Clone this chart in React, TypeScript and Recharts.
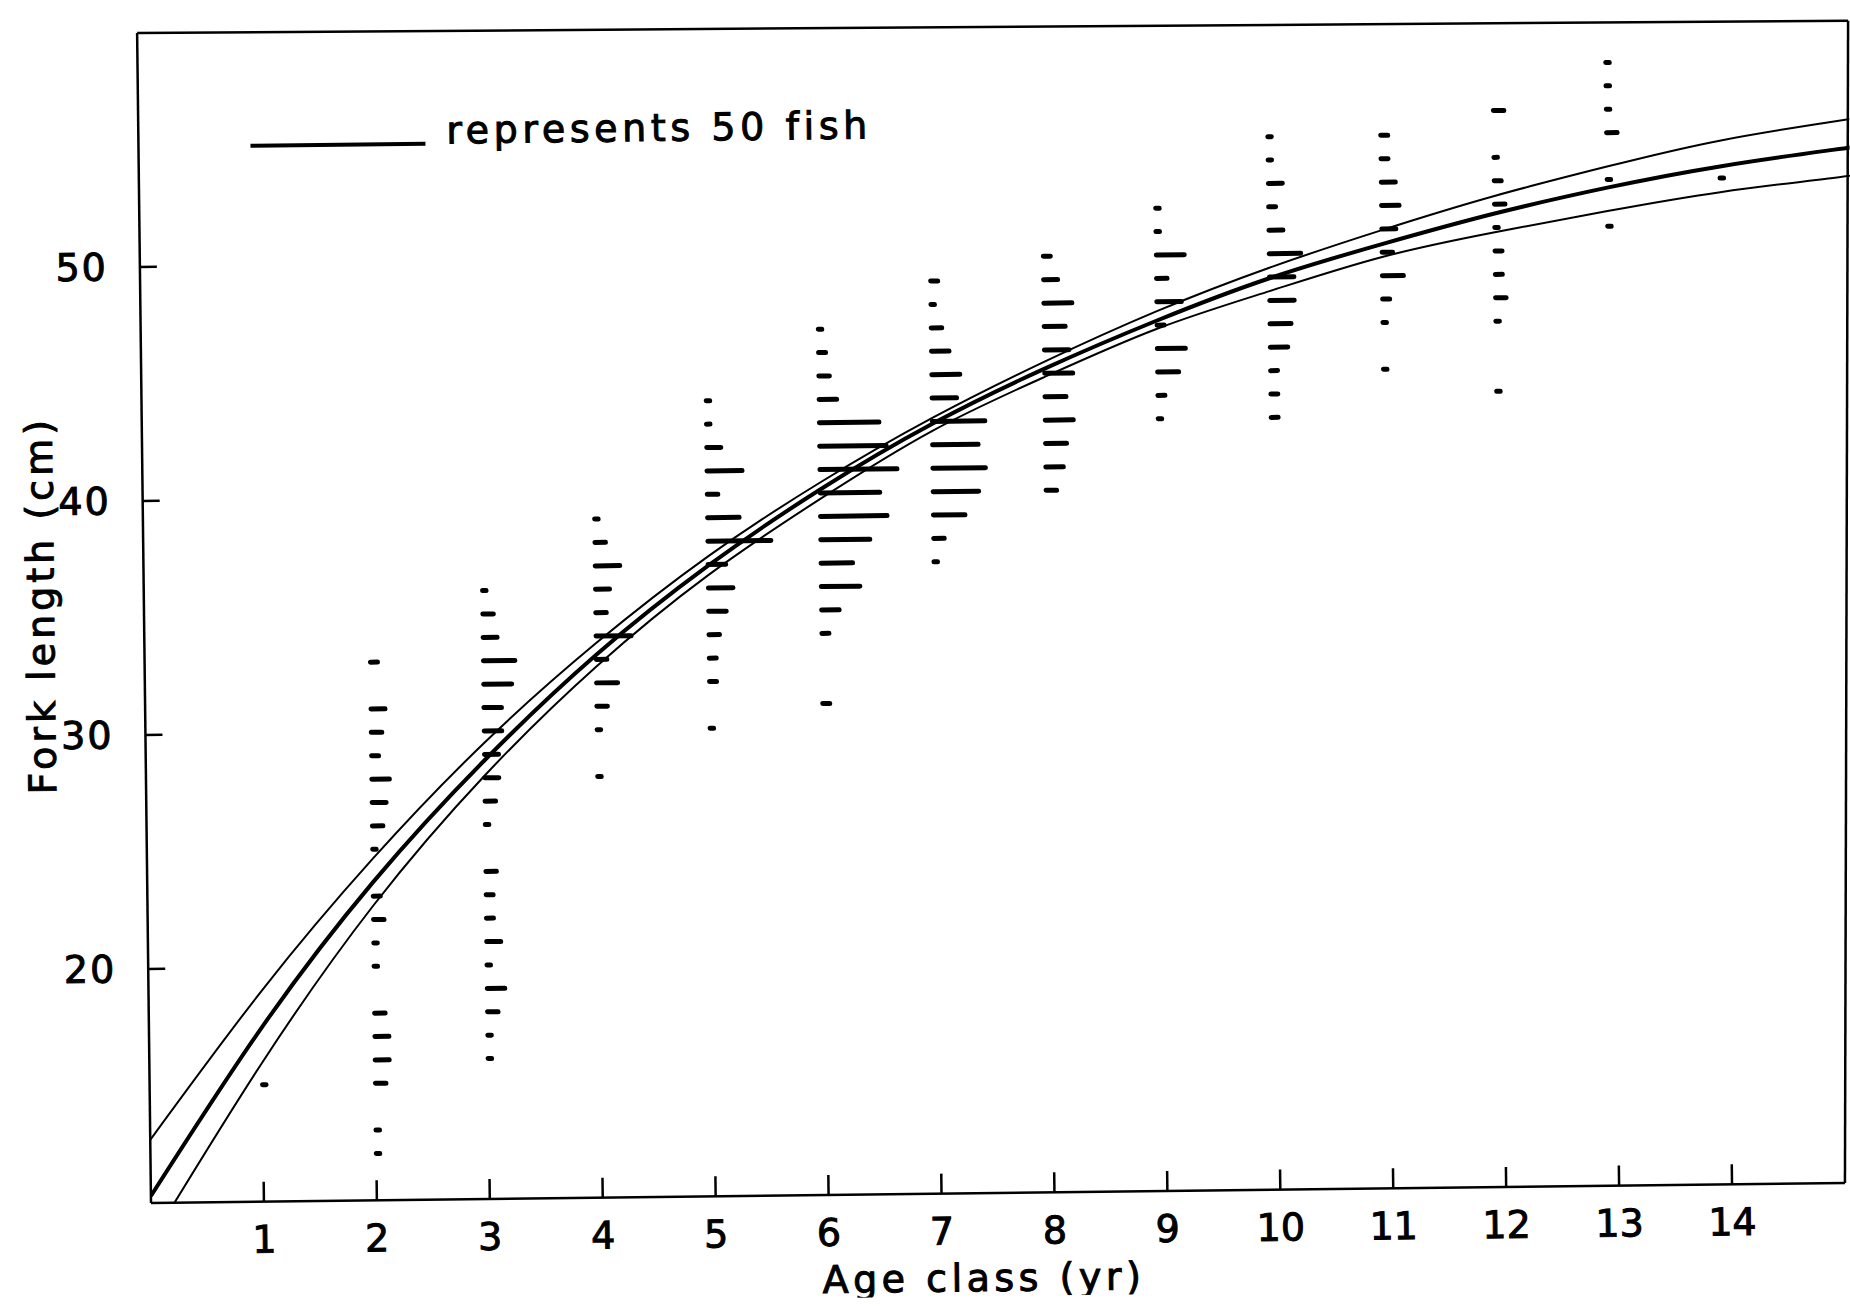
import { ComposedChart, Line, Scatter, XAxis, YAxis, ReferenceLine } from "recharts";

// axis ticks
const AGE_TICKS = [1, 2, 3, 4, 5, 6, 7, 8, 9, 10, 11, 12, 13, 14];
const LENGTH_TICKS = [20, 30, 40, 50];

// growth curve and its band
const CURVE_AGE = [0, 1, 2, 3, 4, 5, 6, 7, 8, 9, 10, 11, 12, 13, 14, 15, 15.15];
const CURVE_UPPER = [12.7, 19.0, 24.6, 29.5, 33.7, 37.35, 40.45, 43.15, 45.5, 47.6, 49.4, 50.95, 52.35, 53.55, 54.6, 55.35, 55.45];
const CURVE_FIT = [10.3, 17.45, 23.6, 28.75, 33.2, 36.95, 40.15, 42.9, 45.2, 47.2, 48.95, 50.35, 51.6, 52.65, 53.5, 54.15, 54.25];
const CURVE_LOWER = [8.4, 15.95, 22.6, 28.1, 32.7, 36.55, 39.75, 42.6, 44.85, 46.85, 48.4, 49.8, 50.8, 51.65, 52.4, 52.95, 53.05];

// box drawn round the plot (its top right corner sits a little out of square)
const FRAME_X = [0, 15, 15.15, 0];
const FRAME_Y = [10, 10, 59.66, 60];

// [fork length (cm), number of fish] per age class
const AGE_1 = [[15, 1]];
const AGE_2 = [[33, 2], [31, 4], [30, 3], [29, 2], [28, 5], [27, 4], [26, 3], [25, 1], [23, 2], [22, 3], [21, 1], [20, 1], [18, 3], [17, 4], [16, 4], [15, 3], [13, 1], [12, 1]];
const AGE_3 = [[36, 1], [35, 3], [34, 4], [33, 9], [32, 8], [31, 5], [30, 5], [29, 4], [28, 4], [27, 3], [26, 1], [24, 3], [23, 2], [22, 2], [21, 4], [20, 1], [19, 5], [18, 3], [17, 1], [16, 1]];
const AGE_4 = [[39, 1], [38, 3], [37, 7], [36, 4], [35, 3], [34, 10], [33, 3], [32, 6], [31, 3], [30, 1], [28, 1]];
const AGE_5 = [[44, 1], [43, 1], [42, 4], [41, 10], [40, 3], [39, 9], [38, 18], [37, 5], [36, 7], [35, 5], [34, 3], [33, 2], [32, 2], [30, 1]];
const AGE_6 = [[47, 1], [46, 2], [45, 3], [44, 5], [43, 17], [42, 19], [41, 22], [40, 17], [39, 19], [38, 14], [37, 9], [36, 11], [35, 5], [34, 2], [31, 2]];
const AGE_7 = [[49, 2], [48, 1], [47, 3], [46, 5], [45, 8], [44, 7], [43, 15], [42, 13], [41, 15], [40, 13], [39, 9], [38, 3], [37, 1]];
const AGE_8 = [[50, 2], [49, 4], [48, 8], [47, 6], [46, 7], [45, 8], [44, 6], [43, 8], [42, 6], [41, 5], [40, 3]];
const AGE_9 = [[52, 1], [51, 1], [50, 8], [49, 3], [48, 7], [47, 2], [46, 8], [45, 6], [44, 2], [43, 1]];
const AGE_10 = [[55, 1], [54, 1], [53, 4], [52, 2], [51, 4], [50, 9], [49, 7], [48, 7], [47, 6], [46, 5], [45, 2], [44, 2], [43, 2]];
const AGE_11 = [[55, 2], [54, 2], [53, 4], [52, 5], [51, 4], [50, 3], [49, 6], [48, 2], [47, 1], [45, 1]];
const AGE_12 = [[56, 3], [54, 1], [53, 2], [52, 3], [51, 1], [50, 2], [49, 2], [48, 3], [47, 1], [44, 1]];
const AGE_13 = [[58, 1], [57, 1], [56, 1], [55, 3], [53, 1], [51, 1]];
const AGE_14 = [[53, 1]];

const BY_AGE = [AGE_1, AGE_2, AGE_3, AGE_4, AGE_5, AGE_6, AGE_7, AGE_8, AGE_9, AGE_10, AGE_11, AGE_12, AGE_13, AGE_14];

const LEGEND_FISH = 50;
const LEGEND_LEN = 175; // px drawn for LEGEND_FISH fish
const PX_PER_FISH = LEGEND_LEN / LEGEND_FISH;

const curve = CURVE_AGE.map((x, i) => ({ x, upper: CURVE_UPPER[i], fit: CURVE_FIT[i], lower: CURVE_LOWER[i] }));
const dashes = BY_AGE.flatMap((rows, i) => rows.map(([y, n]) => ({ x: i + 1, y, n })));
const frame = FRAME_X.map((x, i) => ({ x, y: FRAME_Y[i] }));

const font = { fontFamily: "DejaVu Sans", fontSize: 38, fill: "#000", stroke: "#000", strokeWidth: 1 };

function Dash({ cx, cy, payload }: any) {
  return (
    <line x1={cx} x2={cx + payload.n * PX_PER_FISH} y1={cy} y2={cy}
      stroke="#000" strokeWidth={5} strokeLinecap="round" />
  );
}

function AgeTick({ x, y, payload }: any) {
  return (
    <g>
      <line x1={x} x2={x} y1={y} y2={y - 20} stroke="#000" strokeWidth={2.5} />
      <text x={x} y={y + 38} textAnchor="middle" dominantBaseline="central" style={font}>{payload.value}</text>
    </g>
  );
}

function LengthTick({ x, y, payload }: any) {
  return (
    <g>
      <line x1={x} x2={x + 17} y1={y} y2={y} stroke="#000" strokeWidth={2.5} />
      <text x={x - 32} y={y} textAnchor="end" dominantBaseline="central" style={{ ...font, letterSpacing: 2 }}>{payload.value}</text>
    </g>
  );
}

export default function App() {
  return (
    <div style={{ position: "absolute", left: 0, top: 0, width: 1850, height: 1306, overflow: "hidden", background: "#fff" }}>
      {/* the scanned page sits slightly askew */}
      <div style={{ width: 1870, height: 1306, transform: "rotate(-0.68deg)", transformOrigin: "151px 1203px" }}>
        <ComposedChart width={1870} height={1306} margin={{ top: 33, right: 8, bottom: 73, left: 91 }}>
          <XAxis dataKey="x" type="number" domain={[0, 15.15]} ticks={AGE_TICKS} allowDataOverflow
            axisLine={false} tickLine={false} tickSize={0} tickMargin={0} tick={<AgeTick />} height={30} />
          <YAxis type="number" domain={[10, 60]} ticks={LENGTH_TICKS} allowDataOverflow
            axisLine={false} tickLine={false} tickSize={0} tickMargin={0} tick={<LengthTick />} width={60} />
          {frame.map((p, i) => (
            <ReferenceLine key={i} segment={[p, frame[(i + 1) % frame.length]]} stroke="#000" strokeWidth={2.5} ifOverflow="visible" />
          ))}
          <Line data={curve} dataKey="upper" type="natural" stroke="#000" strokeWidth={2} dot={false} activeDot={false} isAnimationActive={false} />
          <Line data={curve} dataKey="fit" type="natural" stroke="#000" strokeWidth={4} dot={false} activeDot={false} isAnimationActive={false} />
          <Line data={curve} dataKey="lower" type="natural" stroke="#000" strokeWidth={2} dot={false} activeDot={false} isAnimationActive={false} />
          <Scatter data={dashes} dataKey="y" shape={<Dash />} isAnimationActive={false} />

          <line x1={263} x2={263 + LEGEND_LEN} y1={147} y2={147} stroke="#000" strokeWidth={4} />
          <text x={459} y={134} dominantBaseline="central" style={{ ...font, letterSpacing: 4.6 }}>represents 50 fish</text>

          <text x={983} y={1288} textAnchor="middle" dominantBaseline="central" style={{ ...font, letterSpacing: 4.5 }}>Age class (yr)</text>
          <text x={48} y={604} transform="rotate(-90, 48, 604)" textAnchor="middle" dominantBaseline="central"
            style={{ ...font, letterSpacing: 4 }}>Fork length (cm)</text>
        </ComposedChart>
      </div>
    </div>
  );
}
